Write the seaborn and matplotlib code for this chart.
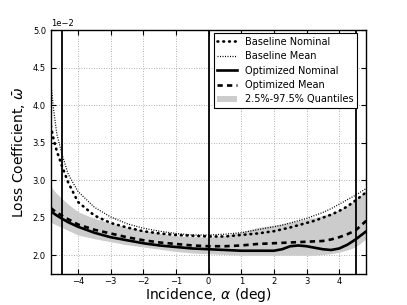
import matplotlib
matplotlib.use("Agg")
import matplotlib.pyplot as plt
import seaborn as sns
import numpy as np
import pandas as pd

# Incidence angle (deg)
incidence = [-4.83, -4.75, -4.65, -4.5, -4.3, -4.0, -3.5, -3.0, -2.5, -2.0, -1.5, -1.0, -0.5, 0.0,
             0.5, 1.0, 1.5, 2.0, 2.25, 2.5, 2.75, 3.0, 3.25, 3.5, 3.75, 4.0, 4.25, 4.5, 4.83]

# Loss coefficient values (x 1e-2)
baseline_nominal = [3.72, 3.55, 3.39, 3.20, 2.97, 2.71, 2.53, 2.43, 2.37, 2.32, 2.29, 2.27, 2.26, 2.25,
                    2.25, 2.27, 2.29, 2.32, 2.345, 2.37, 2.40, 2.43, 2.46, 2.50, 2.54, 2.59, 2.65, 2.73, 2.84]
baseline_mean = [4.30, 3.95, 3.62, 3.36, 3.08, 2.85, 2.64, 2.51, 2.42, 2.36, 2.32, 2.29, 2.27, 2.27,
                 2.28, 2.30, 2.34, 2.38, 2.40, 2.43, 2.46, 2.49, 2.53, 2.57, 2.62, 2.68, 2.74, 2.80, 2.89]
optimized_nominal = [2.58, 2.56, 2.53, 2.49, 2.44, 2.38, 2.30, 2.24, 2.20, 2.16, 2.13, 2.11, 2.09, 2.08,
                     2.07, 2.06, 2.06, 2.06, 2.08, 2.12, 2.13, 2.12, 2.10, 2.08, 2.07, 2.09, 2.14, 2.21, 2.32]
optimized_mean = [2.63, 2.60, 2.57, 2.53, 2.48, 2.41, 2.34, 2.29, 2.24, 2.20, 2.17, 2.15, 2.13, 2.12,
                  2.12, 2.13, 2.15, 2.16, 2.165, 2.17, 2.175, 2.18, 2.185, 2.19, 2.21, 2.24, 2.28, 2.33, 2.46]
quantile_upper = [2.92, 2.87, 2.82, 2.76, 2.68, 2.58, 2.49, 2.43, 2.37, 2.33, 2.29, 2.26, 2.25, 2.24,
                  2.26, 2.31, 2.37, 2.40, 2.42, 2.44, 2.46, 2.48, 2.50, 2.53, 2.56, 2.60, 2.66, 2.74, 2.87]
quantile_lower = [2.44, 2.42, 2.40, 2.37, 2.33, 2.27, 2.22, 2.18, 2.14, 2.11, 2.08, 2.05, 2.03, 2.02,
                  2.01, 2.00, 2.00, 2.00, 2.00, 2.00, 2.00, 2.00, 2.00, 2.01, 2.02, 2.04, 2.07, 2.11, 2.22]

vertical_lines = [-4.5, 0.0, 4.5]
x_limits = [-4.83, 4.83]
y_limits = [1.75e-2, 5.0e-2]

scale = 1e-2
df = pd.DataFrame({
    "x": incidence,
    "bn": np.array(baseline_nominal) * scale,
    "bm": np.array(baseline_mean) * scale,
    "on": np.array(optimized_nominal) * scale,
    "om": np.array(optimized_mean) * scale,
    "qu": np.array(quantile_upper) * scale,
    "ql": np.array(quantile_lower) * scale,
})

plt.rcParams.update({
    "font.family": ["DejaVu Sans"],
    "xtick.direction": "in",
    "ytick.direction": "in",
    "xtick.top": True,
    "ytick.right": True,
    "xtick.major.size": 3.5,
    "ytick.major.size": 3.5,
    "xtick.major.pad": 2.5,
    "xtick.labelsize": 6,
    "ytick.labelsize": 6,
    "axes.linewidth": 1.0,
})

fig, ax = plt.subplots(figsize=(4.07, 3.05), dpi=100)
fig.subplots_adjust(left=0.125, right=0.9, bottom=0.1016, top=0.9016)

sns.lineplot(data=df, x="x", y="bn", ax=ax, color="k", lw=1.9,
             linestyle=(0, (0.3, 1.9)), dash_capstyle="round", label="Baseline Nominal")
sns.lineplot(data=df, x="x", y="bm", ax=ax, color="k", lw=0.9,
             linestyle=(0, (0.8, 1.2)), label="Baseline Mean")
sns.lineplot(data=df, x="x", y="on", ax=ax, color="k", lw=1.9,
             linestyle="-", label="Optimized Nominal")
sns.lineplot(data=df, x="x", y="om", ax=ax, color="k", lw=1.9,
             linestyle=(0, (2, 1.6)), label="Optimized Mean")
ax.fill_between(df["x"], df["ql"], df["qu"], color="0.8", lw=0,
                label="2.5%-97.5% Quantiles", zorder=1)

for v in vertical_lines:
    ax.axvline(v, color="k", lw=1.3, zorder=3)

ax.set_xlim(*x_limits)
ax.set_ylim(*y_limits)
ax.set_yticks(np.arange(2.0, 5.01, 0.5) * scale)
ax.set_xticks([-4, -3, -2, -1, 0, 1, 2, 3, 4])
ax.ticklabel_format(axis="y", style="sci", scilimits=(-2, -2))
ax.grid(True, color="0.6", lw=0.6, linestyle=(0, (1, 2)))
ax.set_axisbelow(True)

ax.set_xlabel(r"Incidence, $\alpha$ (deg)", fontsize=10, labelpad=0)
ax.set_ylabel(r"Loss Coefficient, $\bar{\omega}$", fontsize=10, labelpad=4)

for s in ax.spines.values():
    s.set_color("k")

leg = ax.legend(loc="upper right", bbox_to_anchor=(0.971, 0.988), borderaxespad=0,
                fontsize=7, fancybox=False, framealpha=1, edgecolor="k",
                handlelength=2.0, labelspacing=0.45)
leg.get_frame().set_linewidth(0.8)

fig.savefig("out.png", dpi=100)
